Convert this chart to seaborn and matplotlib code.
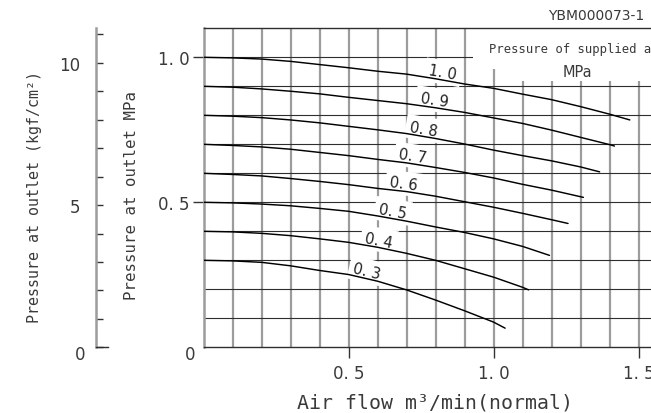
import numpy as np
import pandas as pd
import matplotlib
matplotlib.use("Agg")
import matplotlib.pyplot as plt
import seaborn as sns
from matplotlib import font_manager
from matplotlib.patches import Rectangle

# ---------------- data ----------------
supply_pressures = [1.0, 0.9, 0.8, 0.7, 0.6, 0.5, 0.4, 0.3]
supply_labels = ["1. 0", "0. 9", "0. 8", "0. 7", "0. 6", "0. 5", "0. 4", "0. 3"]

flow_p10 = [0.0, 0.1, 0.2, 0.3, 0.4, 0.5, 0.6, 0.7, 0.8, 0.9, 1.0, 1.1, 1.2, 1.3, 1.4, 1.47]
outlet_p10 = [1.000, 0.998, 0.994, 0.986, 0.975, 0.964, 0.952, 0.942, 0.926, 0.908, 0.893, 0.873, 0.854, 0.830, 0.804, 0.784]

flow_p09 = [0.0, 0.1, 0.2, 0.3, 0.4, 0.5, 0.6, 0.7, 0.8, 0.9, 1.0, 1.1, 1.2, 1.3, 1.4, 1.417]
outlet_p09 = [0.900, 0.897, 0.891, 0.883, 0.874, 0.862, 0.851, 0.840, 0.826, 0.810, 0.791, 0.772, 0.749, 0.724, 0.699, 0.694]

flow_p08 = [0.0, 0.1, 0.2, 0.3, 0.4, 0.5, 0.6, 0.7, 0.8, 0.9, 1.0, 1.1, 1.2, 1.3, 1.366]
outlet_p08 = [0.800, 0.797, 0.792, 0.784, 0.774, 0.762, 0.750, 0.737, 0.720, 0.701, 0.680, 0.661, 0.643, 0.622, 0.605]

flow_p07 = [0.0, 0.1, 0.2, 0.3, 0.4, 0.5, 0.6, 0.7, 0.8, 0.9, 1.0, 1.1, 1.2, 1.31]
outlet_p07 = [0.700, 0.696, 0.691, 0.683, 0.672, 0.661, 0.648, 0.636, 0.620, 0.603, 0.584, 0.562, 0.542, 0.517]

flow_p06 = [0.0, 0.1, 0.2, 0.3, 0.4, 0.5, 0.6, 0.7, 0.8, 0.9, 1.0, 1.1, 1.2, 1.257]
outlet_p06 = [0.600, 0.596, 0.591, 0.582, 0.572, 0.561, 0.548, 0.537, 0.521, 0.502, 0.483, 0.462, 0.440, 0.427]

flow_p05 = [0.0, 0.1, 0.2, 0.3, 0.4, 0.5, 0.6, 0.7, 0.8, 0.9, 1.0, 1.1, 1.193]
outlet_p05 = [0.500, 0.498, 0.494, 0.488, 0.479, 0.469, 0.453, 0.435, 0.415, 0.396, 0.374, 0.348, 0.317]

flow_p04 = [0.0, 0.1, 0.2, 0.3, 0.4, 0.5, 0.6, 0.7, 0.8, 0.9, 1.0, 1.1, 1.121]
outlet_p04 = [0.400, 0.398, 0.393, 0.385, 0.374, 0.362, 0.345, 0.324, 0.300, 0.271, 0.242, 0.207, 0.198]

flow_p03 = [0.0, 0.1, 0.2, 0.3, 0.4, 0.5, 0.6, 0.7, 0.8, 0.9, 1.0, 1.04]
outlet_p03 = [0.300, 0.298, 0.293, 0.281, 0.265, 0.251, 0.228, 0.198, 0.163, 0.126, 0.087, 0.066]

x_tick_values = [0.5, 1.0, 1.5]
x_tick_labels = ["0. 5", "1. 0", "1. 5"]
y_tick_values = [0.5, 1.0]
y_tick_labels = ["0. 5", "1. 0"]
kgf_tick_values = [5, 10]
kgf_tick_labels = ["5", "10"]
MPA_TO_KGF = 10.197

flows = [flow_p10, flow_p09, flow_p08, flow_p07, flow_p06, flow_p05, flow_p04, flow_p03]
outlets = [outlet_p10, outlet_p09, outlet_p08, outlet_p07, outlet_p06, outlet_p05, outlet_p04, outlet_p03]

frames = []
for p, fx, oy in zip(supply_pressures, flows, outlets):
    frames.append(pd.DataFrame({"flow": fx, "outlet": oy, "supply": p}))
df = pd.concat(frames, ignore_index=True)

# label anchor positions along each curve (layout, not data)
label_flow_pos = [0.826, 0.795, 0.760, 0.722, 0.691, 0.653, 0.605, 0.564]

# ---------------- style ----------------
sns.set_style("white")
avail = {f.name for f in font_manager.fontManager.ttflist}
MONO = "DejaVu Sans Mono"
SANS = "DejaVu Sans"
NARROW = "Liberation Sans Narrow" if "Liberation Sans Narrow" in avail else None
TXT = "#3a3a3a"
VGRID = "#9c9c9c"
HGRID = "#2e2e2e"

W, H = 651, 414
fig = plt.figure(figsize=(W / 100, H / 100), dpi=100)
fig.patch.set_facecolor("white")

left_px, bottom_px, ppu = 203.5, 348.3, 290.0
ymax = 1.1
xmax = (W - left_px) / ppu
ax = fig.add_axes([left_px / W, (H - bottom_px) / H, (W - left_px) / W, ymax * ppu / H])
ax.set_xlim(0, xmax)
ax.set_ylim(0, ymax)
ax.set_facecolor("white")

sns.lineplot(data=df, x="flow", y="outlet", hue="supply", estimator=None, sort=False,
             palette={p: "black" for p in supply_pressures}, legend=False, ax=ax,
             linewidth=1.05, zorder=3)

# ticks & grid
ax.set_xticks(x_tick_values)
ax.set_xticklabels(x_tick_labels)
ax.set_xticks(np.linspace(0.1, 1.5, 15), minor=True)
ax.set_yticks(y_tick_values)
ax.set_yticklabels(y_tick_labels)
ax.set_yticks(np.linspace(0.1, 1.0, 10), minor=True)
ax.tick_params(which="minor", length=0)
ax.tick_params(which="major", direction="out", length=8, width=1.0, color="#333333",
               labelsize=12, labelcolor=TXT, left=True, bottom=True)
ax.tick_params(axis="x", pad=4)
ax.tick_params(axis="y", pad=2)
for lab in ax.get_xticklabels() + ax.get_yticklabels():
    lab.set_family(SANS)
ax.set_axisbelow(True)
ax.grid(which="both", axis="x", color=VGRID, linewidth=1.6)
ax.grid(which="both", axis="y", color=HGRID, linewidth=0.8)
ax.set_xlabel("")
ax.set_ylabel("")

ax.spines["right"].set_visible(False)
ax.spines["left"].set_color(VGRID)
ax.spines["left"].set_linewidth(1.8)
ax.spines["bottom"].set_color(HGRID)
ax.spines["bottom"].set_linewidth(1.0)
ax.spines["top"].set_color(HGRID)
ax.spines["top"].set_linewidth(1.0)

# white boxes behind the legend title
ax.add_patch(Rectangle((0.93, 0.96), 1.0, 0.3, facecolor="white", edgecolor="none", zorder=1.5))
ax.add_patch(Rectangle((1.04, 0.918), 1.0, 0.1, facecolor="white", edgecolor="none", zorder=1.5))
if NARROW:
    ax.text(1.291, 1.032, "Pressure of supplied air", ha="center", va="center",
            family=NARROW, fontsize=12.5, color=TXT, zorder=4, clip_on=False)
else:
    ax.text(1.291, 1.032, "Pressure of supplied air", ha="center", va="center",
            family=MONO, fontsize=8.8, color=TXT, zorder=4, clip_on=False)
ax.text(1.291, 0.952, "MPa", ha="center", va="center", family=SANS, fontsize=10.5,
        color=TXT, zorder=4)

# curve labels
for lab, lx, fx, oy in zip(supply_labels, label_flow_pos, flows, outlets):
    y0 = np.interp(lx, fx, oy)
    slope = (np.interp(lx + 0.05, fx, oy) - np.interp(lx - 0.05, fx, oy)) / 0.1
    ang = np.degrees(np.arctan(slope))
    ax.text(lx, y0 + 0.027, lab, ha="center", va="center", rotation=ang,
            rotation_mode="anchor", family=SANS, fontsize=10.5, color="#222222",
            zorder=2,
            bbox=dict(boxstyle="square,pad=0.3", facecolor="white", edgecolor="none"))

# second (kgf/cm2) axis
ax2 = fig.add_axes([96 / W, (H - bottom_px) / H, 12 / W, ymax * ppu / H])
ax2.set_ylim(0, ymax * MPA_TO_KGF)
ax2.set_xlim(0, 1)
ax2.patch.set_alpha(0)
for s in ["top", "right"]:
    ax2.spines[s].set_visible(False)
ax2.spines["left"].set_color(VGRID)
ax2.spines["left"].set_linewidth(1.8)
ax2.spines["bottom"].set_color(HGRID)
ax2.spines["bottom"].set_linewidth(1.0)
ax2.set_xticks([])
ax2.set_yticks(kgf_tick_values)
ax2.set_yticklabels(kgf_tick_labels)
ax2.set_yticks(list(range(0, 12)), minor=True)
ax2.tick_params(axis="y", which="both", direction="in", length=5, width=1.0,
                color="#333333", left=True, right=False)
ax2.tick_params(axis="y", which="major", labelsize=12, labelcolor=TXT, pad=11)
for lab in ax2.get_yticklabels():
    lab.set_family(SANS)

# zero labels
fig.text(85 / W, 1 - 355 / H, "0", ha="right", va="center", family=SANS, fontsize=12, color=TXT)
fig.text(195 / W, 1 - 355 / H, "0", ha="right", va="center", family=SANS, fontsize=12, color=TXT)

# axis titles
fig.text(35 / W, 1 - 197 / H, "Pressure at outlet (kgf/cm²)", rotation=90, ha="center",
         va="center", family=MONO, fontsize=10.8, color=TXT)
fig.text(131 / W, 1 - 196 / H, "Pressure at outlet MPa", rotation=90, ha="center",
         va="center", family=MONO, fontsize=11.3, color=TXT)
fig.text(435 / W, 1 - 403 / H, "Air flow m³/min(normal)", ha="center", va="center",
         family=MONO, fontsize=14.3, color=TXT)

# document code
fig.text(548 / W, 1 - 16 / H, "YBM000073-1", ha="left", va="center", family=SANS,
         fontsize=10, color=TXT)

fig.savefig("out.png", dpi=100, facecolor="white")
